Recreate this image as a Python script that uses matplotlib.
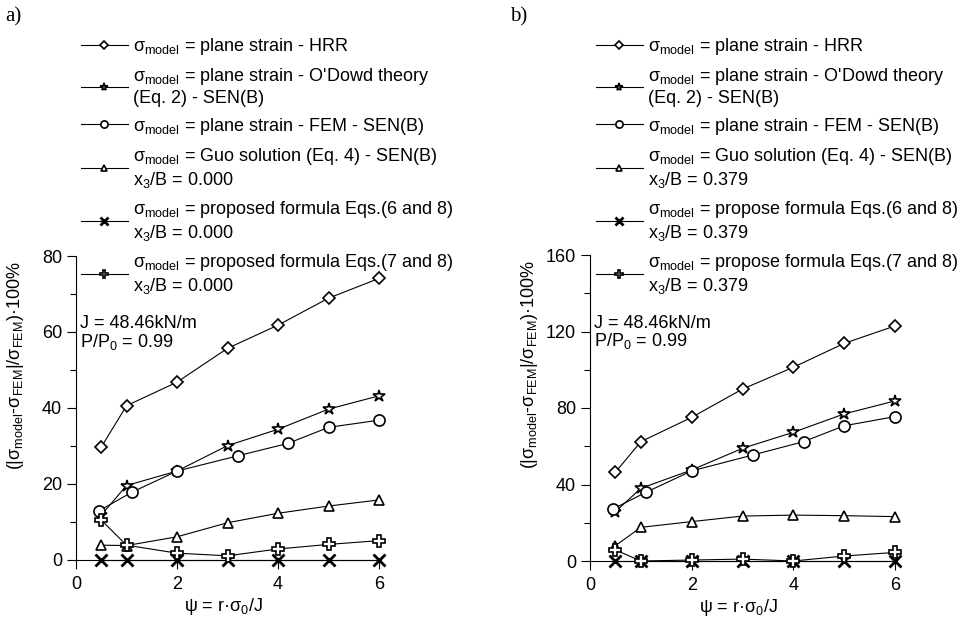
import numpy as np
import matplotlib
matplotlib.use("Agg")
from matplotlib import pyplot as plt
from matplotlib.ticker import MultipleLocator

plt.rcParams['font.family'] = ['Liberation Sans', 'DejaVu Sans']
plt.rcParams['mathtext.fontset'] = 'custom'
plt.rcParams['mathtext.rm'] = 'Liberation Sans'
plt.rcParams['mathtext.it'] = 'Liberation Sans'
plt.rcParams['font.size'] = 13

# psi values
psi = [0.5, 1, 2, 3, 4, 5, 6]
psi_fem = [0.45, 1.1, 2, 3.2, 4.2, 5, 6]

# panel a) x3/B = 0.000
a_hrr = [29.7, 40.6, 46.8, 55.7, 61.8, 68.9, 74.1]
a_odowd = [11.8, 19.6, 23.4, 30.1, 34.4, 39.7, 43.2]
a_fem = [12.9, 17.8, 23.4, 27.4, 30.7, 34.9, 36.8]
a_guo = [3.9, 3.8, 6.1, 9.8, 12.3, 14.2, 15.8]
a_eq68 = [0, 0, 0, 0, 0, 0, 0]
a_eq78 = [10.5, 3.9, 1.8, 1.1, 2.9, 4.1, 5.1]

# panel b) x3/B = 0.379
b_hrr = [46.4, 62.4, 75.1, 89.9, 101.3, 113.8, 122.9]
b_odowd = [25.8, 38.0, 47.6, 58.9, 67.3, 76.9, 83.7]
b_fem = [27.2, 35.9, 47.1, 55.4, 62.4, 70.7, 75.5]
b_guo = [8.0, 17.6, 20.6, 23.5, 24.0, 23.7, 23.2]
b_eq68 = [0, 0, 0, 0, 0, 0, 0]
b_eq78 = [5.8, 0.0, 0.5, 1.0, 0.0, 2.6, 4.5]

labels_a = [
    'σ$_{\\rm model}$ = plane strain - HRR',
    'σ$_{\\rm model}$ = plane strain - O\'Dowd theory\n(Eq. 2) - SEN(B)',
    'σ$_{\\rm model}$ = plane strain - FEM - SEN(B)',
    'σ$_{\\rm model}$ = Guo solution (Eq. 4) - SEN(B)\nx$_3$/B = 0.000',
    'σ$_{\\rm model}$ = proposed formula Eqs.(6 and 8)\nx$_3$/B = 0.000',
    'σ$_{\\rm model}$ = proposed formula Eqs.(7 and 8)\nx$_3$/B = 0.000',
]
labels_b = [
    'σ$_{\\rm model}$ = plane strain - HRR',
    'σ$_{\\rm model}$ = plane strain - O\'Dowd theory\n(Eq. 2) - SEN(B)',
    'σ$_{\\rm model}$ = plane strain - FEM - SEN(B)',
    'σ$_{\\rm model}$ = Guo solution (Eq. 4) - SEN(B)\nx$_3$/B = 0.379',
    'σ$_{\\rm model}$ = propose formula Eqs.(6 and 8)\nx$_3$/B = 0.379',
    'σ$_{\\rm model}$ = propose formula Eqs.(7 and 8)\nx$_3$/B = 0.379',
]

markers = ['D', '*', 'o', '^', 'x', 'P']
msizes = [6, 9, 8, 7.5, 8.5, 8]

fig = plt.figure(figsize=(9.72, 6.2), dpi=100)


def panel(rect, series, labels, ymax, ystep, leg_x, tag, tag_x):
    ax = fig.add_axes(rect)
    for i, (xs, ys) in enumerate(series):
        mew = 2 if markers[i] == 'x' else 1.2
        ax.plot(xs, ys, color='black', lw=0.8, marker=markers[i], ms=msizes[i],
                mfc='white', mec='black', mew=mew, clip_on=False, label=labels[i], zorder=3)
    ax.set_xlim(0, 6)
    ax.set_ylim(0, ymax)
    ax.xaxis.set_major_locator(MultipleLocator(2))
    ax.yaxis.set_major_locator(MultipleLocator(ystep))
    ax.yaxis.set_minor_locator(MultipleLocator(ystep / 2))
    ax.spines['top'].set_visible(False)
    ax.spines['right'].set_visible(False)
    ax.tick_params(axis='both', which='major', direction='out', length=6.5, width=0.8, labelsize=13)
    ax.tick_params(axis='x', which='major', pad=5)
    ax.tick_params(axis='y', which='minor', direction='out', length=4.5, width=0.8)
    ax.set_xlabel('ψ = r·σ$_0$/J', fontsize=13)
    ax.set_ylabel('(|σ$_{\\rm model}$-σ$_{\\rm FEM}$|/σ$_{\\rm FEM}$)·100%', fontsize=13)
    ax.xaxis.set_label_coords(0.485, -0.118)
    ax.yaxis.set_label_coords(-0.165, 0.64)
    ax.text(0.012, 0.805, 'J = 48.46kN/m\nP/P$_0$ = 0.99', transform=ax.transAxes,
            fontsize=13, va='top', ha='left', linespacing=0.95)
    leg = ax.legend(loc='upper left', bbox_to_anchor=(leg_x, 1 - 36 / 620),
                    bbox_transform=fig.transFigure, frameon=False, fontsize=13,
                    handlelength=2.6, handletextpad=0.3, labelspacing=0.5,
                    borderpad=0, borderaxespad=0, markerscale=0.65)
    for t in leg.get_texts():
        t.set_linespacing(1.2)
    leg.set_zorder(5)
    fig.text(tag_x, 1 - 17 / 620, tag, family='Liberation Serif', fontsize=15, va='center')
    return ax


panel([76 / 972, 60 / 620, 303 / 972, 304 / 620],
      [(psi, a_hrr), (psi, a_odowd), (psi_fem, a_fem), (psi, a_guo), (psi, a_eq68), (psi, a_eq78)],
      labels_a, 80, 20, 81 / 972, 'a)', 5 / 972)
panel([590 / 972, 59 / 620, 305 / 972, 306 / 620],
      [(psi, b_hrr), (psi, b_odowd), (psi_fem, b_fem), (psi, b_guo), (psi, b_eq68), (psi, b_eq78)],
      labels_b, 160, 40, 596 / 972, 'b)', 510 / 972)

fig.savefig('out.png', dpi=100)
